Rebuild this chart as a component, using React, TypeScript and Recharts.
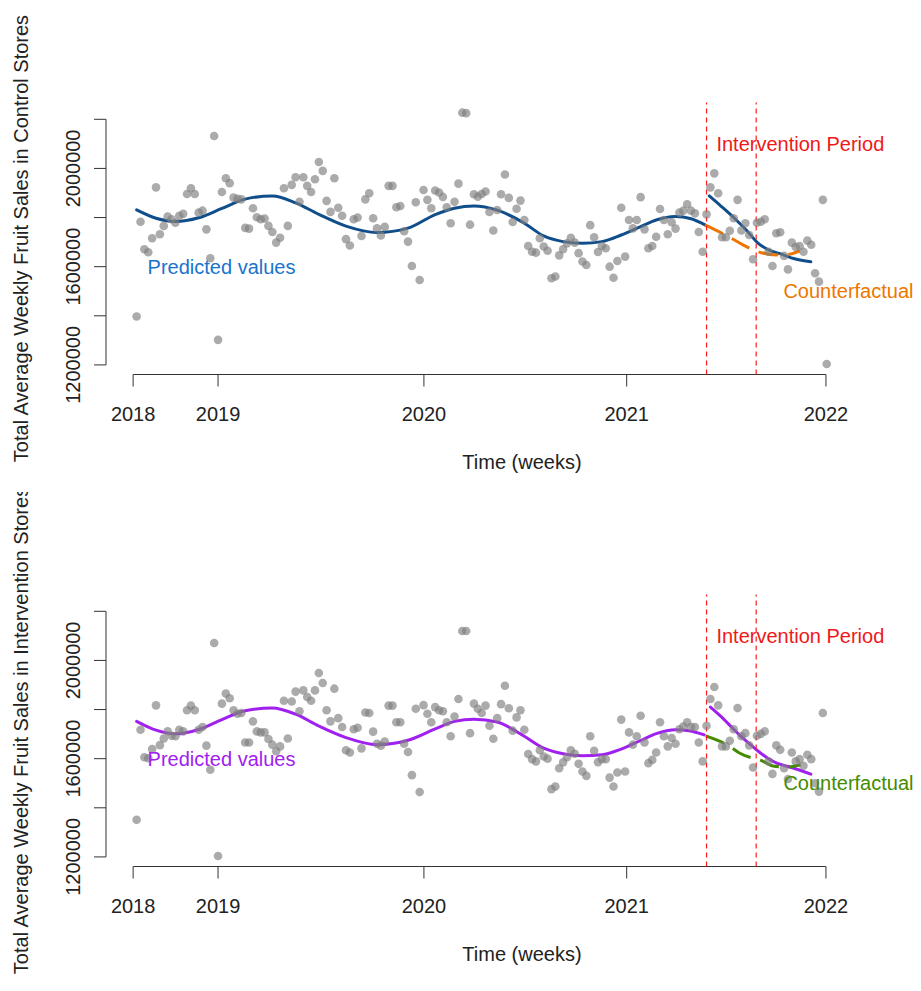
import React from 'react';
import { ComposedChart, XAxis, YAxis, Scatter, Line, ReferenceLine, ReferenceDot } from 'recharts';

const FONT = '"Liberation Sans", Arial, Helvetica, sans-serif';

// x = week index (first observed week = 0), y = sales
const X_DOMAIN: [number, number] = [-7.9, 206.7];
const Y_DOMAIN: [number, number] = [1161000, 2268000];

const yearTickWeeks = [-0.9, 21.0, 74.1, 126.4, 177.8];
const yearTickLabels = ['2018', '2019', '2020', '2021', '2022'];
const salesTicks = [1200000, 1400000, 1600000, 1800000, 2000000, 2200000];
const salesTickLabelled = [1200000, 1600000, 2000000];

const interventionStartWeek = 147;
const interventionEndWeek = 159.8;

// weekly observations, thousands
const controlSalesK = [
  1397, 1783, 1671, 1659, 1716, 1923, 1732, 1766, 1804, 1793,
  1779, 1807, 1815, 1896, 1919, 1896, 1820, 1828, 1752, 1634,
  2132, 1302, 1904, 1960, 1940, 1881, 1876, 1874, 1758, 1755,
  1838, 1801, 1793, 1796, 1766, 1741, 1698, 1718, 1919, 1766,
  1933, 1964, 1864, 1964, 1929, 1904, 1956, 2026, 1990, 1868,
  1823, 1960, 1840, 1807, 1712, 1686, 1793, 1800, 1725, 1874,
  1899, 1797, 1756, 1727, 1762, 1929, 1929, 1842, 1847, 1744,
  1702, 1603, 1862, 1546, 1912, 1872, 1838, 1910, 1902, 1884,
  1842, 1777, 1864, 1938, 2227, 2225, 1771, 1895, 1885, 1896,
  1906, 1823, 1747, 1831, 1895, 1975, 1880, 1782, 1836, 1869,
  1790, 1684, 1661, 1657, 1716, 1682, 1665, 1553, 1560, 1646,
  1671, 1695, 1718, 1698, 1655, 1621, 1607, 1769, 1720, 1660,
  1684, 1675, 1600, 1555, 1623, 1840, 1641, 1790, 1756, 1790,
  1883, 1752, 1675, 1684, 1722, 1835, 1790, 1732, 1781, 1755,
  1820, 1828, 1854, 1828, 1817, 1741, 1661, 1813, 1923, 1980,
  1899, 1720, 1720, 1746, 1797, 1872, 1747, 1777, 1729, 1630,
  1779, 1783, 1793, 1661, 1603, 1736, 1740, 1644, 1589, 1698,
  1680, 1684, 1661, 1706, 1689, 1573, 1539, 1872, 1204,
];

const interventionSalesK = [
  1351, 1718, 1606, 1602, 1639, 1817, 1655, 1682, 1711, 1693,
  1691, 1718, 1711, 1797, 1816, 1797, 1718, 1729, 1653, 1555,
  2071, 1204, 1824, 1865, 1846, 1797, 1783, 1786, 1666, 1666,
  1752, 1711, 1707, 1707, 1680, 1657, 1630, 1650, 1836, 1682,
  1833, 1873, 1793, 1878, 1851, 1836, 1878, 1949, 1908, 1797,
  1752, 1885, 1765, 1729, 1634, 1625, 1720, 1726, 1642, 1788,
  1786, 1710, 1661, 1653, 1670, 1816, 1816, 1748, 1748, 1661,
  1627, 1533, 1803, 1464, 1818, 1783, 1748, 1810, 1797, 1793,
  1748, 1691, 1772, 1843, 2120, 2120, 1704, 1824, 1803, 1786,
  1816, 1734, 1681, 1765, 1822, 1897, 1805, 1714, 1768, 1797,
  1718, 1619, 1598, 1589, 1634, 1609, 1600, 1476, 1487, 1561,
  1585, 1606, 1634, 1620, 1579, 1548, 1530, 1691, 1632, 1586,
  1598, 1598, 1523, 1487, 1544, 1759, 1548, 1707, 1657, 1691,
  1775, 1666, 1582, 1595, 1625, 1748, 1691, 1650, 1684, 1661,
  1720, 1731, 1748, 1729, 1729, 1666, 1589, 1734, 1843, 1892,
  1817, 1650, 1650, 1673, 1720, 1806, 1691, 1704, 1654, 1564,
  1693, 1701, 1711, 1589, 1538, 1654, 1636, 1561, 1517, 1625,
  1589, 1598, 1571, 1616, 1598, 1500, 1466, 1786,
];

// fitted curves: [week, thousands]
const controlPredPre: [number, number][] = [
  [0, 1831], [5, 1797], [10, 1784], [16, 1799], [22, 1837], [28, 1875], [35, 1888],
  [41, 1860], [47, 1813], [54, 1765], [62, 1739], [70, 1757], [77, 1812], [82, 1838],
  [87, 1847], [93, 1830], [100, 1777], [105, 1725], [110, 1702], [115, 1695], [120, 1702],
  [125, 1729], [130, 1763], [134, 1790], [139, 1804], [143, 1795], [146.6, 1770],
];
const controlPredPost: [number, number][] = [
  [147.7, 1888], [150.7, 1847], [154.2, 1797], [157.6, 1743], [160.2, 1697],
  [162.8, 1670], [166.5, 1650], [169.7, 1632], [173.9, 1620],
];
const controlCounterfactual: [number, number][] = [
  [146.6, 1770], [152.8, 1721], [156.5, 1688], [159.9, 1663], [165, 1648], [168.5, 1651], [171.1, 1665],
];

const interventionPredPre: [number, number][] = [
  [0, 1752], [5, 1716], [10, 1701], [16, 1719], [22, 1759], [28, 1795], [35, 1806],
  [41, 1781], [47, 1733], [54, 1686], [62, 1657], [70, 1675], [77, 1721], [82, 1752],
  [87, 1761], [93, 1749], [100, 1691], [105, 1643], [110, 1620], [115, 1612], [120, 1616],
  [125, 1639], [130, 1674], [134, 1702], [139, 1718], [142.5, 1714], [146.4, 1697],
];
const interventionPredPost: [number, number][] = [
  [148, 1810], [150.7, 1772], [153.5, 1728], [155.6, 1695], [158.5, 1655], [160.5, 1628],
  [162.8, 1602], [165.1, 1582], [168.5, 1566], [173.9, 1537],
];
const interventionCounterfactual: [number, number][] = [
  [146.8, 1693], [153, 1650], [155.6, 1622], [161.6, 1589], [164.1, 1570], [167.7, 1566], [171.3, 1575],
];

const toXY = (arr: [number, number][]) => arr.map(([w, v]) => ({ x: w, y: v * 1000 }));

const XTick = (props: any) => {
  const { x, y, payload } = props;
  const i = yearTickWeeks.indexOf(payload.value);
  return (
    <text x={x} y={y + 32.5} textAnchor="middle" fontSize={20} fill="#222" fontFamily={FONT}>
      {i >= 0 ? yearTickLabels[i] : ''}
    </text>
  );
};

const YTick = (props: any) => {
  const { y, payload } = props;
  if (!salesTickLabelled.includes(payload.value)) return <g />;
  const bx = 80;
  return (
    <text x={bx} y={y} transform={`rotate(-90, ${bx}, ${y})`} textAnchor="middle" fontSize={20} fill="#222" fontFamily={FONT}>
      {String(payload.value)}
    </text>
  );
};

const GreyDot = (p: any) => <circle cx={p.cx} cy={p.cy} r={4.3} fill="#808080" fillOpacity={0.66} />;

const textLabel = (value: string, color: string) => (p: any) => (
  <text x={p.viewBox.x} y={p.viewBox.y + 7} textAnchor="middle" fontSize={20} fill={color} fontFamily={FONT}>
    {value}
  </text>
);

type PanelProps = {
  top: number;
  height: number;
  yTitle: string;
  salesK: number[];
  pre: [number, number][];
  post: [number, number][];
  cf: [number, number][];
  lineColor: string;
  labelColor: string;
  cfColor: string;
  cfLabelColor: string;
};

function Panel(props: PanelProps) {
  const { top, height, yTitle, salesK, pre, post, cf, lineColor, labelColor, cfColor, cfLabelColor } = props;
  const points = salesK.map((v, i) => ({ x: i, y: v * 1000 }));
  return (
    <div style={{ position: 'absolute', left: 0, top, width: 921, height, overflow: 'hidden', background: '#fff' }}>
      <ComposedChart width={960} height={493} margin={{ top: 102.6, right: 22, bottom: 28.5, left: 0 }}>
        <XAxis
          type="number"
          dataKey="x"
          domain={X_DOMAIN}
          allowDataOverflow
          ticks={yearTickWeeks}
          interval={0}
          tickSize={12}
          tickLine={{ stroke: '#333', strokeWidth: 1 }}
          axisLine={false}
          height={90}
          tick={XTick}
        />
        <YAxis
          type="number"
          dataKey="y"
          domain={Y_DOMAIN}
          allowDataOverflow
          ticks={salesTicks}
          interval={0}
          tickSize={12}
          tickLine={{ stroke: '#333', strokeWidth: 1 }}
          axisLine={false}
          width={106}
          tick={YTick}
        />
        <ReferenceLine segment={[{ x: X_DOMAIN[0], y: 1200000 }, { x: X_DOMAIN[0], y: 2200000 }]} stroke="#333" strokeWidth={1} ifOverflow="visible" />
        <ReferenceLine segment={[{ x: yearTickWeeks[0], y: Y_DOMAIN[0] }, { x: yearTickWeeks[4], y: Y_DOMAIN[0] }]} stroke="#333" strokeWidth={1} ifOverflow="visible" />
        <Scatter data={points} dataKey="y" shape={GreyDot} isAnimationActive={false} />
        <Line data={toXY(pre)} dataKey="y" type="monotone" stroke={lineColor} strokeWidth={3} dot={false} activeDot={false} isAnimationActive={false} strokeLinecap="round" />
        <Line data={toXY(post)} dataKey="y" type="monotone" stroke={lineColor} strokeWidth={3} dot={false} activeDot={false} isAnimationActive={false} strokeLinecap="round" />
        <Line data={toXY(cf)} dataKey="y" type="monotone" stroke={cfColor} strokeWidth={3} strokeDasharray="20 10" dot={false} activeDot={false} isAnimationActive={false} />
        <ReferenceLine x={interventionStartWeek} stroke="#ff1a1a" strokeWidth={1.2} strokeDasharray="5 4" />
        <ReferenceLine x={interventionEndWeek} stroke="#ff1a1a" strokeWidth={1.2} strokeDasharray="5 4" />
        <ReferenceDot x={21.9} y={1600000} r={0} fill="none" stroke="none" label={textLabel('Predicted values', labelColor)} />
        <ReferenceDot x={171.2} y={2100000} r={0} fill="none" stroke="none" label={textLabel('Intervention Period', '#f01818')} />
        <ReferenceDot x={183.6} y={1500000} r={0} fill="none" stroke="none" label={textLabel('Counterfactual', cfLabelColor)} ifOverflow="visible" />
      </ComposedChart>
      <svg width={921} height={height} style={{ position: 'absolute', left: 0, top: 0, pointerEvents: 'none' }}>
        <text x={28} y={238.5} transform="rotate(-90, 28, 238.5)" textAnchor="middle" fontSize={20} fill="#222" fontFamily={FONT}>
          {yTitle}
        </text>
        <text x={522} y={469} textAnchor="middle" fontSize={20} fill="#222" fontFamily={FONT}>
          Time (weeks)
        </text>
      </svg>
    </div>
  );
}

export default function App() {
  return (
    <div style={{ position: 'absolute', left: 0, top: 0, width: 921, height: 991, background: '#fff' }}>
      <Panel
        top={0}
        height={492}
        yTitle="Total Average Weekly Fruit Sales in Control Stores"
        salesK={controlSalesK}
        pre={controlPredPre}
        post={controlPredPost}
        cf={controlCounterfactual}
        lineColor="#104E8B"
        labelColor="#1874CD"
        cfColor="#EE7600"
        cfLabelColor="#EE7600"
      />
      <Panel
        top={492}
        height={499}
        yTitle="Total Average Weekly Fruit Sales in Intervention Stores"
        salesK={interventionSalesK}
        pre={interventionPredPre}
        post={interventionPredPost}
        cf={interventionCounterfactual}
        lineColor="#A020F0"
        labelColor="#A020F0"
        cfColor="#458B00"
        cfLabelColor="#458B00"
      />
    </div>
  );
}
